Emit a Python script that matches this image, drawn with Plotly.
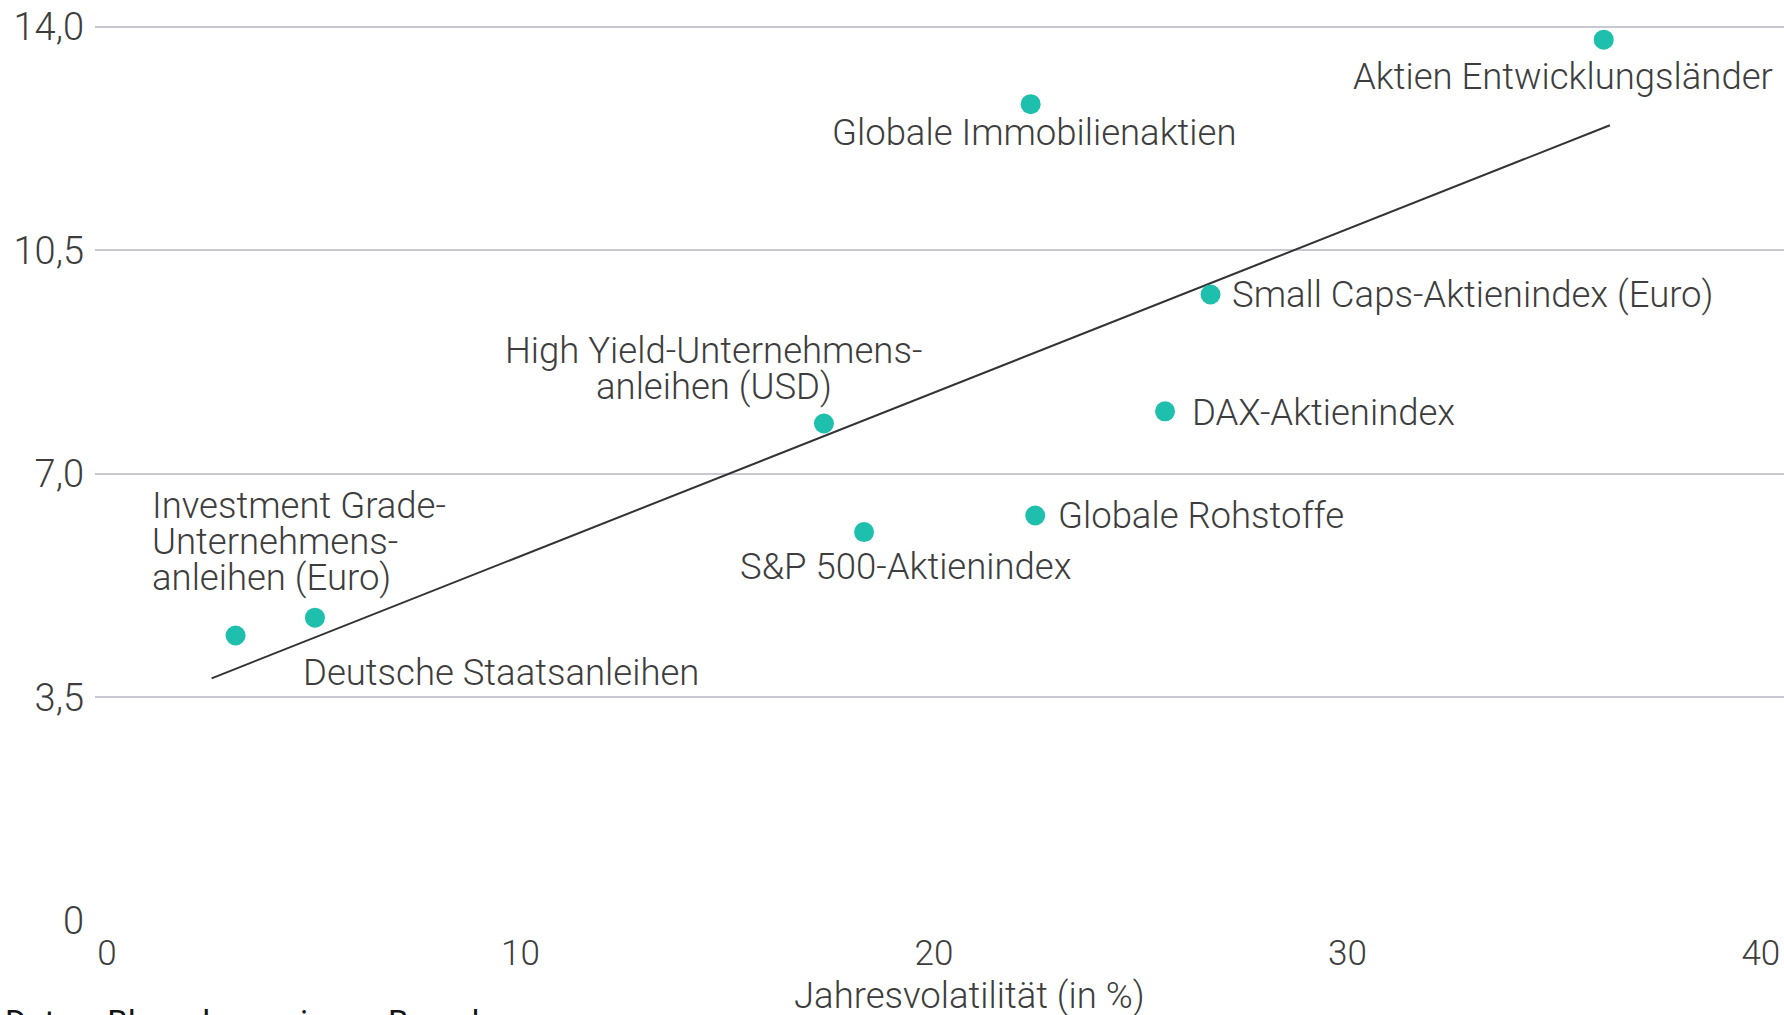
import plotly.graph_objects as go

# ---- data ----
names = [
    "Deutsche Staatsanleihen",
    "Investment Grade-Unternehmensanleihen (Euro)",
    "High Yield-Unternehmensanleihen (USD)",
    "S&P 500-Aktienindex",
    "Globale Immobilienaktien",
    "Globale Rohstoffe",
    "DAX-Aktienindex",
    "Small Caps-Aktienindex (Euro)",
    "Aktien Entwicklungsländer",
]
volatility = [3.11, 5.03, 17.34, 18.31, 22.34, 22.45, 25.59, 26.69, 36.20]
returns = [4.47, 4.75, 7.79, 6.09, 12.79, 6.35, 7.98, 9.81, 13.80]

trend_x = [2.53, 36.35]
trend_y = [3.80, 12.46]

label_lines = [
    ["Deutsche Staatsanleihen"],
    ["Investment Grade-", "Unternehmens-", "anleihen (Euro)"],
    ["High Yield-Unternehmens-", "anleihen (USD)"],
    ["S&P 500-Aktienindex"],
    ["Globale Immobilienaktien"],
    ["Globale Rohstoffe"],
    ["DAX-Aktienindex"],
    ["Small Caps-Aktienindex (Euro)"],
    ["Aktien Entwicklungsländer"],
]

x_tickvals = [0, 10, 20, 30, 40]
x_ticktext = ["0", "10", "20", "30", "40"]
y_tickvals = [0, 3.5, 7.0, 10.5, 14.0]
y_ticktext = ["0", "3,5", "7,0", "10,5", "14,0"]

x_title = "Jahresvolatilität (in %)"
source_text = "Daten: Bloomberg, eigene Berechnungen"

# ---- styling / label placement (pixel offsets from each point) ----
FONT = "Roboto"
TEXT_COL = "#3d3d3d"
DOT_COL = "#1fbfae"
FS = 36.5
LINE_H = 36
# (xanchor, xshift, yshift of first line)
label_place = [
    ("left", 65, -37),
    ("left", -165, 112),
    ("center", -110, 73),
    ("center", 41, -34),
    ("center", 3, -28),
    ("left", 21, 0),
    ("left", 25, -1),
    ("left", 19, 0),
    ("center", -41, -37),
]

fig = go.Figure()
fig.add_trace(go.Scatter(
    x=trend_x, y=trend_y, mode="lines",
    line=dict(color="#333333", width=2), hoverinfo="skip", showlegend=False,
))
fig.add_trace(go.Scatter(
    x=volatility, y=returns, mode="markers", text=names,
    marker=dict(color=DOT_COL, size=20, line=dict(width=0)),
    showlegend=False,
))

annotations = []
for i, lines in enumerate(label_lines):
    xa, xs, ys = label_place[i]
    for j, line in enumerate(lines):
        annotations.append(dict(
            x=volatility[i], y=returns[i], xref="x", yref="y",
            text=line, showarrow=False, xanchor=xa, yanchor="middle",
            xshift=xs, yshift=ys - j * LINE_H,
            font=dict(family=FONT, size=FS, color=TEXT_COL, weight=300),
        ))

annotations.append(dict(
    x=0.518, y=-0.0822, xref="paper", yref="paper", text=x_title,
    showarrow=False, xanchor="center", yanchor="middle",
    font=dict(family=FONT, size=FS, color=TEXT_COL, weight=300),
))
annotations.append(dict(
    x=-0.0545, y=-0.0875, xref="paper", yref="paper", text=source_text,
    showarrow=False, xanchor="left", yanchor="top",
    font=dict(family=FONT, size=33, color="#151515", weight=400),
))

fig.update_layout(
    width=1784, height=1015,
    margin=dict(l=95, r=0, t=9, b=94),
    paper_bgcolor="white", plot_bgcolor="white",
    font=dict(family=FONT, size=FS, color=TEXT_COL, weight=300),
    annotations=annotations,
    xaxis=dict(
        range=[-0.29, 40.56], tickvals=x_tickvals, ticktext=x_ticktext,
        showgrid=False, zeroline=False, showline=False, ticks="",
        ticklabelstandoff=8,
        tickfont=dict(family=FONT, size=35, color=TEXT_COL, weight=300),
    ),
    yaxis=dict(
        range=[0, 14.28], tickvals=y_tickvals, ticktext=y_ticktext,
        showgrid=True, gridcolor="#c8c8d2", gridwidth=2,
        zeroline=False, showline=False, ticks="",
        ticklabelstandoff=10,
        tickfont=dict(family=FONT, size=38, color=TEXT_COL, weight=300),
    ),
)

fig.write_html("out.html")
